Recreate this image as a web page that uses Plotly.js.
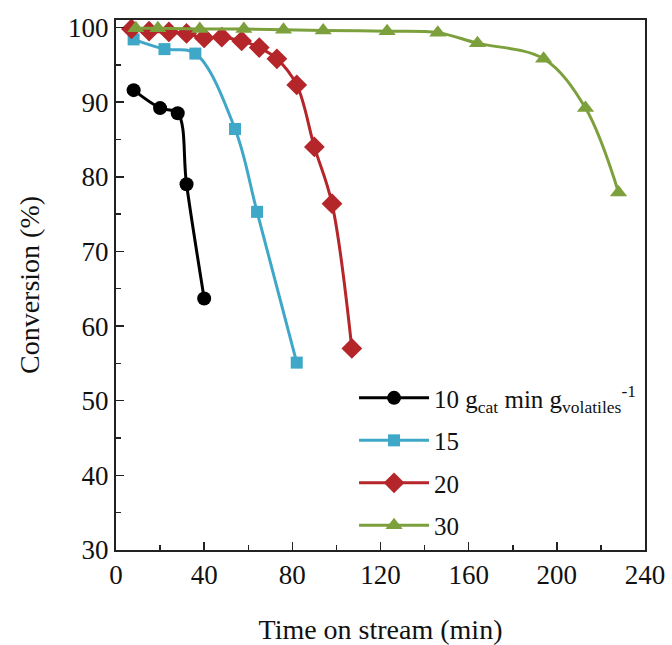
<!DOCTYPE html>
<html>
<head>
<meta charset="utf-8">
<script src="https://cdn.plot.ly/plotly-3.0.1.min.js"></script>
<style>html,body{margin:0;padding:0;background:#fff;}#chart{width:672px;height:645px;}</style>
</head>
<body>
<div id="chart"></div>
<script>
// Time on stream (min) and conversion (%) for each catalyst/volatiles ratio
const x10 = [8, 20, 28, 32, 40];
const y10 = [91.6, 89.2, 88.5, 79.0, 63.7];

const x15 = [8, 22, 36, 54, 64, 82];
const y15 = [98.4, 97.1, 96.5, 86.4, 75.3, 55.1];

const x20 = [7, 15, 24, 32, 40, 48, 57, 65, 73, 82, 90, 98, 107];
const y20 = [99.8, 99.5, 99.4, 99.2, 98.6, 98.7, 98.2, 97.3, 95.8, 92.3, 84.0, 76.4, 57.0];

const x30 = [9, 19, 38, 58, 76, 94, 123, 146, 164, 194, 213, 228];
const y30 = [99.9, 99.9, 99.8, 99.8, 99.7, 99.6, 99.5, 99.3, 97.9, 95.8, 89.2, 77.9];

const seriesNames = [
  '10 g<sub>cat</sub> min g<sub>volatiles</sub><sup>-1</sup>',
  '15', '20', '30'
];
const xTickVals = [0, 40, 80, 120, 160, 200, 240];
const yTickVals = [30, 40, 50, 60, 70, 80, 90, 100];

const FONT = '"Liberation Serif", "DejaVu Serif", serif';

function mk(x, y, name, color, symbol, size, grp) {
  return {
    x: x, y: y, name: name, type: 'scatter', mode: 'lines+markers',
    legendgroup: grp,
    line: {color: color, width: 3, shape: 'spline', smoothing: 1},
    marker: {color: color, symbol: symbol, size: size},
    cliponaxis: false
  };
}

const data = [
  mk(x10, y10, seriesNames[0], '#000000', 'circle', 14, 'a'),
  mk(x15, y15, seriesNames[1], '#3fa7c7', 'square', 12, 'b'),
  mk(x20, y20, seriesNames[2], '#b4262a', 'diamond', 16, 'c'),
  mk(x30, y30, seriesNames[3], '#7ca03c', 'triangle-up', 15, 'd')
];

const layout = {
  width: 672, height: 645,
  margin: {l: 116, r: 27, t: 20, b: 95},
  paper_bgcolor: '#ffffff', plot_bgcolor: '#ffffff',
  font: {family: FONT, color: '#111111', size: 26},
  showlegend: true,
  legend: {
    x: 0.45, y: 0.33, xanchor: 'left', yanchor: 'top',
    bgcolor: 'rgba(0,0,0,0)', borderwidth: 0,
    font: {family: FONT, size: 25, color: '#111111'},
    itemwidth: 70, traceorder: 'grouped', tracegroupgap: 7
  },
  xaxis: {
    range: [0, 240], tickvals: xTickVals, ticktext: xTickVals.map(String),
    ticks: 'inside', ticklen: 8, tickwidth: 1.5, tickcolor: '#222',
    minor: {dtick: 20, ticks: 'inside', ticklen: 5, tickwidth: 1.5, tickcolor: '#222'},
    showline: true, linecolor: '#222', linewidth: 2, mirror: true,
    showgrid: false, zeroline: false,
    tickfont: {family: FONT, size: 27, color: '#111'},
    title: {text: 'Time on stream (min)', font: {family: FONT, size: 28, color: '#111'}, standoff: 32}
  },
  yaxis: {
    range: [30, 101], tickvals: yTickVals, ticktext: yTickVals.map(String),
    ticks: 'inside', ticklen: 8, tickwidth: 1.5, tickcolor: '#222',
    minor: {dtick: 5, ticks: 'inside', ticklen: 5, tickwidth: 1.5, tickcolor: '#222'},
    showline: true, linecolor: '#222', linewidth: 2, mirror: true,
    showgrid: false, zeroline: false,
    tickfont: {family: FONT, size: 27, color: '#111'},
    title: {text: 'Conversion (%)', font: {family: FONT, size: 28, color: '#111'}, standoff: 20}
  }
};

Plotly.newPlot('chart', data, layout, {displayModeBar: false, staticPlot: true});
</script>
</body>
</html>
